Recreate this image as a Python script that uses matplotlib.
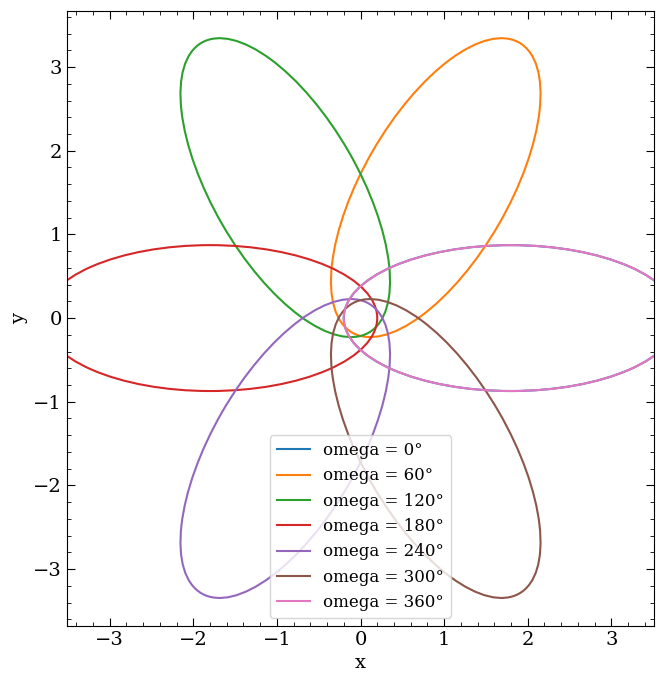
import numpy as np
import matplotlib
matplotlib.use('Agg')
import matplotlib.pyplot as plt
from matplotlib.patches import Ellipse
from matplotlib.lines import Line2D
from matplotlib.ticker import MultipleLocator

# orbit parameters
omegas = [0, 60, 120, 180, 240, 300, 360]
semi_major = 2.0
eccentricity = 0.9
colors = ['C0', 'C1', 'C2', 'C3', 'C4', 'C5', 'C6']

plt.rcParams['font.family'] = 'DejaVu Serif'
plt.rcParams['mathtext.fontset'] = 'dejavuserif'

fig = plt.figure(figsize=(6.63, 6.82), dpi=100)
ax = fig.add_axes([67 / 663, 1 - 626 / 682, 587 / 663, 615 / 682])

b = semi_major * np.sqrt(1 - eccentricity**2)
c = semi_major * eccentricity
handles = []
for om, col in zip(omegas, colors):
    rad = np.deg2rad(om)
    center = (c * np.cos(rad), c * np.sin(rad))
    ax.add_patch(Ellipse(center, 2 * semi_major, 2 * b, angle=om,
                         fill=False, edgecolor=col, linewidth=1.5))
    handles.append(Line2D([], [], color=col, linewidth=1.5,
                          label=f'omega = {om}°'))

ax.set_xlim(-3.51, 3.51)
ax.set_ylim(-3.68, 3.67)
ax.set_xlabel('x', fontsize=14, labelpad=4)
ax.set_ylabel('y', fontsize=14, labelpad=4)

ax.xaxis.set_major_locator(MultipleLocator(1))
ax.yaxis.set_major_locator(MultipleLocator(1))
ax.xaxis.set_minor_locator(MultipleLocator(0.2))
ax.yaxis.set_minor_locator(MultipleLocator(0.2))
ax.tick_params(which='both', direction='in', top=True, right=True, labelsize=14)
ax.tick_params(which='major', length=6)
ax.tick_params(which='minor', length=3)

ax.legend(handles=handles, loc='lower center', fontsize=12, framealpha=0.8)

fig.savefig('out.png', dpi=100)
